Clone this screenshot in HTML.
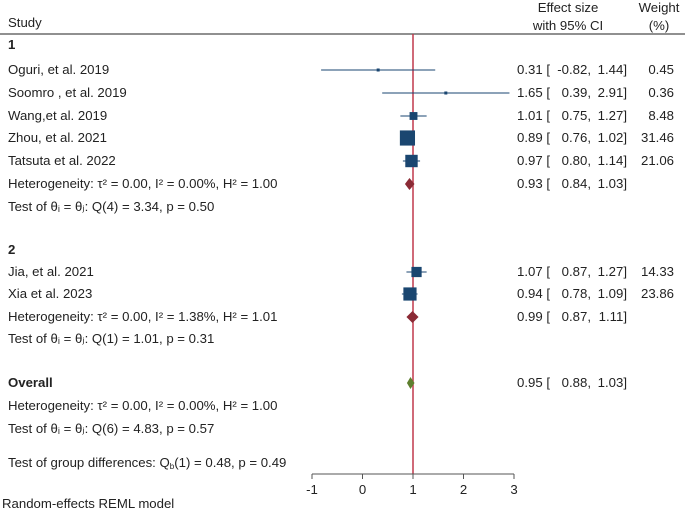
<!DOCTYPE html>
<html><head><meta charset="utf-8"><style>
body{margin:0;background:#fff;}
svg text{font-family:"Liberation Sans",sans-serif;font-size:13.2px;fill:#222;}
</style></head><body>
<svg id="c" width="685" height="512">
<text x="8" y="27">Study</text>
<text x="568" y="12" text-anchor="middle">Effect size</text>
<text x="568" y="30" text-anchor="middle">with 95% CI</text>
<text x="659" y="12" text-anchor="middle">Weight</text>
<text x="659" y="30" text-anchor="middle">(%)</text>
<line x1="0" y1="34" x2="685" y2="34" stroke="#222" stroke-width="1"/>
<g id="g"></g>
</svg>
<script>
const studies=["Oguri,  et al. 2019","Soomro , et al. 2019","Wang,et al. 2019","Zhou, et al. 2021","Tatsuta et al. 2022","Jia, et al. 2021","Xia et al. 2023"];
const est=[0.31,1.65,1.01,0.89,0.97,1.07,0.94];
const lo=[-0.82,0.39,0.75,0.76,0.80,0.87,0.78];
const hi=[1.44,2.91,1.27,1.02,1.14,1.27,1.09];
const weights=[0.45,0.36,8.48,31.46,21.06,14.33,23.86];
const studyRows=[70,93,116,138,161,272,294];
const pooledEst=[0.93,0.99,0.95];
const pooledLo=[0.84,0.87,0.88];
const pooledHi=[1.03,1.11,1.03];
const pooledRows=[184,317,383];
const ticks=[-1,0,1,2,3];
const x=v=>413+(v-1)*50.5;
const g=document.getElementById('g');
const NS="http://www.w3.org/2000/svg";
function mk(t,a,txt){const e=document.createElementNS(NS,t);for(const k in a)e.setAttribute(k,a[k]);if(txt!=null)e.textContent=txt;g.appendChild(e);return e;}
const f=v=>v.toFixed(2);
function row(y,e,l,h,w){
 let t=mk('text',{x:550,y:y+4,'text-anchor':'end'},f(e)+' [');
 
 t=mk('text',{x:591,y:y+4,'text-anchor':'end'},f(l)+',');
 
 t=mk('text',{x:627,y:y+4,'text-anchor':'end'},f(h)+']');
 
 if(w!=null){t=mk('text',{x:674,y:y+4,'text-anchor':'end'},f(w));
 }
}
const labels=[["1",45,true],["Heterogeneity: τ² = 0.00, I² = 0.00%, H² = 1.00",184],["Test of θᵢ = θⱼ: Q(4) = 3.34, p = 0.50",207],["2",250,true],["Heterogeneity: τ² = 0.00, I² = 1.38%, H² = 1.01",317],["Test of θᵢ = θⱼ: Q(1) = 1.01, p = 0.31",339],["Overall",383,true],["Heterogeneity: τ² = 0.00, I² = 0.00%, H² = 1.00",406],["Test of θᵢ = θⱼ: Q(6) = 4.83, p = 0.57",429]];
labels.forEach(L=>{const t=mk('text',{x:8,y:L[1]+4,'font-weight':L[2]?'bold':'normal'},L[0]);
 });
let gd=mk('text',{x:8,y:467},null);
gd.innerHTML='Test of group differences: Q<tspan font-size="8" dy="2">b</tspan><tspan dy="-2">(1) = 0.48, p = 0.49</tspan>';

let t=mk('text',{x:2,y:508},"Random-effects REML model");

let ln=mk('line',{x1:x(1),y1:34,x2:x(1),y2:474,stroke:'#c0394b','stroke-width':1.5});

studies.forEach((s,i)=>{const y=studyRows[i];
 let e=mk('text',{x:8,y:y+4},s);
 e=mk('line',{x1:x(lo[i]),y1:y,x2:x(hi[i]),y2:y,stroke:'#1a4670','stroke-width':1});
 
 const sz=Math.max(3,2.7*Math.sqrt(weights[i]));
 e=mk('rect',{x:x(est[i])-sz/2,y:y-sz/2,width:sz,height:sz,fill:'#1a4670'});
 
 row(y,est[i],lo[i],hi[i],weights[i]);
});
pooledEst.forEach((p,i)=>{const y=pooledRows[i];const c=i==2?'#5e7f2e':'#8b2a35';
 const e=mk('polygon',{points:`${x(pooledLo[i])},${y} ${x(p)},${y-6} ${x(pooledHi[i])},${y} ${x(p)},${y+6}`,fill:c});
 
 row(y,p,pooledLo[i],pooledHi[i],null);
});
let a=mk('line',{x1:x(-1),y1:474,x2:x(3),y2:474,stroke:'#555','stroke-width':1});

ticks.forEach(v=>{let e=mk('line',{x1:x(v),y1:474,x2:x(v),y2:479,stroke:'#555'});
 
 e=mk('text',{x:x(v),y:494,'text-anchor':'middle'},String(v));
 });
</script>
</body></html>
